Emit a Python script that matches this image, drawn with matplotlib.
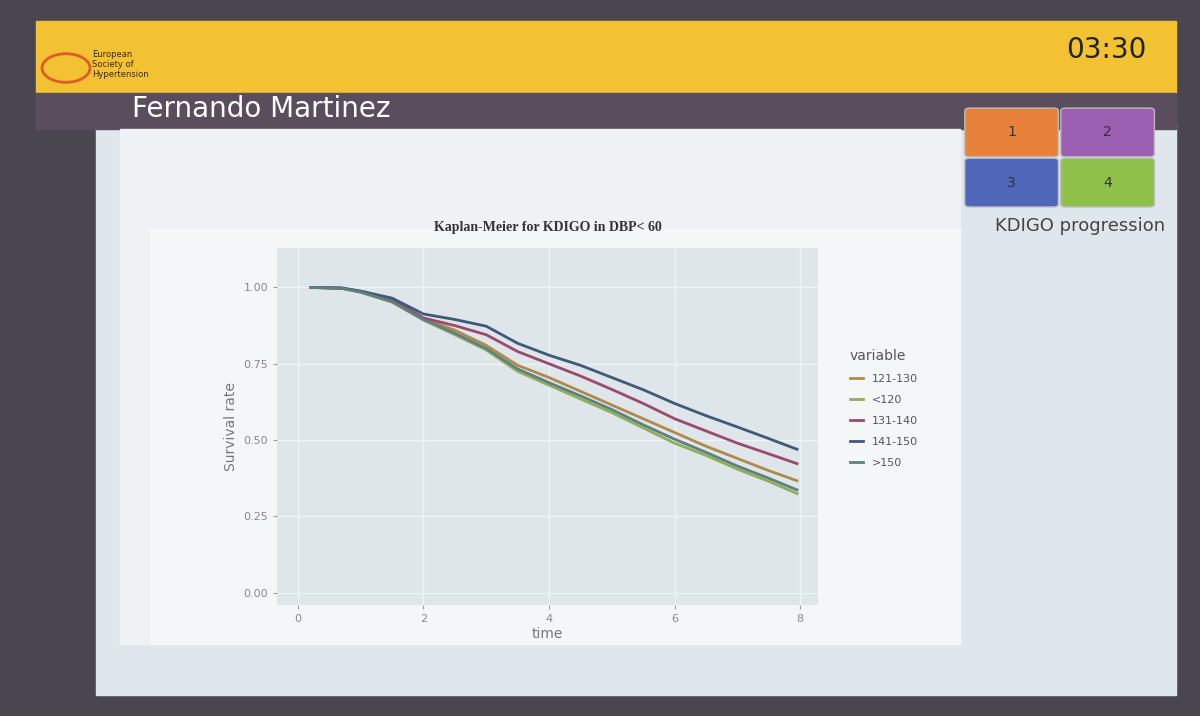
import matplotlib.pyplot as plt
from matplotlib.patches import Rectangle, FancyBboxPatch, Circle

# survival curves
time = [0.2, 0.7, 1.0, 1.5, 2.0, 2.5, 3.0, 3.5, 4.0, 4.5, 5.0, 5.5, 6.0, 6.5, 7.0, 7.5, 7.95]
s_121_130 = [1.0, 0.997, 0.985, 0.955, 0.898, 0.86, 0.81, 0.745, 0.705, 0.66, 0.615, 0.57, 0.525, 0.48, 0.44, 0.40, 0.367]
s_lt120 = [1.0, 0.997, 0.984, 0.952, 0.893, 0.845, 0.795, 0.725, 0.68, 0.635, 0.59, 0.54, 0.49, 0.45, 0.405, 0.365, 0.325]
s_131_140 = [1.0, 0.998, 0.987, 0.962, 0.90, 0.875, 0.845, 0.79, 0.75, 0.71, 0.666, 0.62, 0.57, 0.53, 0.49, 0.455, 0.423]
s_141_150 = [1.0, 0.998, 0.988, 0.965, 0.913, 0.895, 0.873, 0.817, 0.778, 0.745, 0.705, 0.665, 0.62, 0.58, 0.543, 0.505, 0.47]
s_gt150 = [1.0, 0.997, 0.985, 0.953, 0.895, 0.85, 0.80, 0.733, 0.688, 0.645, 0.60, 0.55, 0.503, 0.46, 0.415, 0.375, 0.337]
labels = ['121-130', '<120', '131-140', '141-150', '>150']
colors = ['#b08a4a', '#8fae5a', '#9a4a70', '#3f5a78', '#5f8080']

fig = plt.figure(figsize=(12, 7.16), dpi=100)
fig.patch.set_facecolor('#4a4650')

# slide background pieces
fig.add_artist(Rectangle((0.08, 0.03), 0.9, 0.8, transform=fig.transFigure, color='#dfe6ec', zorder=0))
fig.add_artist(Rectangle((0.03, 0.87), 0.95, 0.1, transform=fig.transFigure, color='#f2c232', zorder=0))
fig.add_artist(Rectangle((0.03, 0.82), 0.95, 0.05, transform=fig.transFigure, color='#5a4e5e', zorder=0))
fig.add_artist(Rectangle((0.1, 0.1), 0.7, 0.72, transform=fig.transFigure, color='#eef2f5', zorder=0))
fig.add_artist(Rectangle((0.125, 0.1), 0.675, 0.58, transform=fig.transFigure, color='#f4f7f8', zorder=0))
fig.add_artist(Circle((0.055, 0.905), 0.02, transform=fig.transFigure, fc='none', ec='#e05a2a', lw=2))
fig.text(0.077, 0.91, 'European\nSociety of\nHypertension', fontsize=6, color='#3a2a20', va='center')
fig.text(0.11, 0.848, 'Fernando Martinez', fontsize=20, color='white', va='center')
fig.text(0.955, 0.93, '03:30', fontsize=20, color='#222222', ha='right', va='center')
fig.text(0.9, 0.685, 'KDIGO progression', fontsize=13, color='#444444', ha='center', va='center')
boxes = [(0.808, 0.785, '#e8823a', '1'), (0.888, 0.785, '#9a5fb0', '2'),
         (0.808, 0.715, '#5066b8', '3'), (0.888, 0.715, '#8fc04a', '4')]
for bx, by, bc, bt in boxes:
    fig.add_artist(FancyBboxPatch((bx, by), 0.07, 0.06, boxstyle='round,pad=0.004',
                                  transform=fig.transFigure, fc=bc, ec='#bbbbbb'))
    fig.text(bx + 0.035, by + 0.03, bt, fontsize=10, color='#333333', ha='center', va='center')

ax = fig.add_axes([0.231, 0.155, 0.451, 0.499])
ax.set_facecolor('#dfe6ea')
for s, lab, c in zip([s_121_130, s_lt120, s_131_140, s_141_150, s_gt150], labels, colors):
    ax.plot(time, s, color=c, lw=2, label=lab)
ax.set_xlim(-0.33, 8.29)
ax.set_ylim(-0.04, 1.13)
ax.set_xticks([0, 2, 4, 6, 8])
ax.set_yticks([0, 0.25, 0.5, 0.75, 1.0])
ax.set_yticklabels(['0.00', '0.25', '0.50', '0.75', '1.00'])
ax.grid(color='#eef3f5', lw=1)
for sp in ax.spines.values():
    sp.set_visible(False)
ax.tick_params(colors='#9aa0a4', labelsize=8, labelcolor='#888888', length=3)
ax.set_xlabel('time', color='#777777', fontsize=10, labelpad=2)
ax.set_ylabel('Survival rate', color='#777777', fontsize=10)
ax.set_title('Kaplan-Meier for KDIGO in DBP< 60', fontsize=10, fontweight='bold',
             family='Liberation Serif', color='#333333', pad=12)
leg = ax.legend(title='variable', loc='center left', bbox_to_anchor=(1.04, 0.55), frameon=False,
                fontsize=8, title_fontsize=10, handlelength=1.2, labelspacing=1.0)
for t in leg.get_texts():
    t.set_color('#555555')
leg.get_title().set_color('#555555')
leg._legend_box.align = 'left'

fig.savefig('out.png', dpi=100, facecolor=fig.get_facecolor())
